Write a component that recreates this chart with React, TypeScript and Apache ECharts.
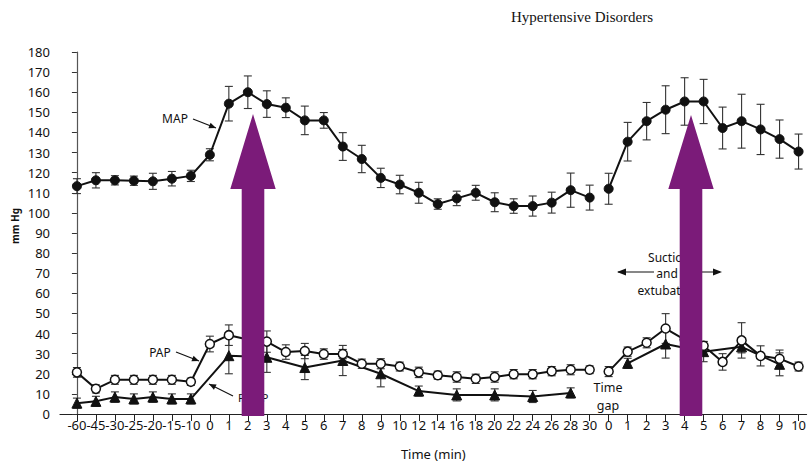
import React, { useEffect, useRef } from "react";
import * as echarts from "echarts";

const CATEGORIES = ['-60','-45','-30','-25','-20','-15','-10','0','1','2','3','4','5','6','7','8','9','10','12','14','16','18','20','22','24','26','28','30','0','1','2','3','4','5','6','7','8','9','10'];
const GAP_AFTER_INDEX = 27;

const MAP_VALUES = [113.3, 116.2, 116.2, 116, 115.7, 117, 118.4, 128.9, 154.3, 160, 154.1, 152.3, 146, 146, 133, 126.8, 117.4, 114.1, 110, 104.4, 107.2, 110, 105.3, 103.4, 103.4, 105.1, 111.3, 107.6, 112, 135.4, 145.6, 151.3, 155.4, 155.4, 142.2, 145.6, 141.5, 136.7, 130.5];
const MAP_ERR = [3.7, 3.8, 2.3, 2.3, 4, 3.6, 2.8, 3, 8.6, 8.1, 6.6, 4.9, 7.1, 3.9, 6.9, 6.8, 4.8, 4.6, 5.2, 2.6, 3.6, 3.7, 4.7, 3.6, 5, 5.2, 8.5, 6.2, 7.7, 9.6, 9.3, 11.9, 11.8, 11, 10.4, 13.4, 12.5, 9.5, 8.7];

const PAP_VALUES = [20.7, 12.5, 17, 17, 17, 17, 16, 34.8, 39.2, 37, 36, 30.8, 31.3, 29.8, 29.8, 25, 25, 23.6, 20.7, 19.3, 18.4, 17.5, 18.4, 19.8, 19.8, 21.3, 22, 22, 21.1, 31, 35.4, 42.5, 37, 33.9, 25.9, 36.6, 28.9, 27.5, 23.6];
const PAP_ERR = [2.4, 2, 2.2, 2.2, 2.2, 2.2, 1.8, 3.9, 5.1, 4, 5.3, 3.6, 3.8, 2.6, 2.3, 2.3, 2.5, 2.2, 2.6, 2, 2.6, 2.3, 2.6, 2.3, 2.3, 2.3, 2.5, 1.9, 2.5, 2.3, 2.5, 7.4, 4, 2.2, 4.1, 8.8, 5, 4.3, 2.2];

const PCWP_VALUES = [5.4, 6.3, 8.4, 7.5, 8.4, 7.5, 7.5, null, 29, null, 28.2, null, 23.1, null, 26.6, null, 20, null, 11.4, null, 9.5, null, 9.5, null, 8.7, null, 10.5, null, null, 25.2, null, 34.8, null, 31, null, 33.4, null, 24.7, null];
const PCWP_ERR = [2.5, 2.5, 2.6, 2.5, 2.6, 2.5, 2.5, null, 9, null, 7.5, null, 6, null, 7.5, null, 6.5, null, 2.5, null, 3, null, 3, null, 3, null, 2.5, null, null, 2.5, null, 7, null, 5, null, 3, null, 5.7, null];

const TICK_POSITIONS = CATEGORIES.map((_, i) => i);

function toLineData(vals: (number | null)[]) {
  const out: any[] = [];
  vals.forEach((v, i) => {
    if (v != null) out.push([i, v]);
    if (i === GAP_AFTER_INDEX) out.push([i + 0.5, "-"]);
  });
  return out;
}

function toErrData(vals: (number | null)[], errs: (number | null)[]) {
  const out: any[] = [];
  vals.forEach((v, i) => {
    const e = errs[i];
    if (v != null && e != null) out.push([i, v - e, v + e]);
  });
  return out;
}

const FONT = "Noto Sans";
const PURPLE = "#7b1b79";

function errSeries(name: string, vals: any, errs: any) {
  return {
    type: "custom",
    name: name + "-err",
    z: 2,
    silent: true,
    data: toErrData(vals, errs),
    encode: { x: 0, y: [1, 2] },
    renderItem: (params: any, api: any) => {
      const x = api.value(0);
      const lo = api.coord([x, api.value(1)]);
      const hi = api.coord([x, api.value(2)]);
      const cap = 4;
      const style = { stroke: "#333", lineWidth: 1.1 };
      return {
        type: "group",
        children: [
          { type: "line", shape: { x1: lo[0], y1: lo[1], x2: hi[0], y2: hi[1] }, style },
          { type: "line", shape: { x1: lo[0] - cap, y1: lo[1], x2: lo[0] + cap, y2: lo[1] }, style },
          { type: "line", shape: { x1: hi[0] - cap, y1: hi[1], x2: hi[0] + cap, y2: hi[1] }, style },
        ],
      };
    },
  };
}

function arrowHead(tx: number, ty: number, fx: number, fy: number, len = 7, w = 3) {
  const dx = tx - fx, dy = ty - fy;
  const d = Math.sqrt(dx * dx + dy * dy);
  const ux = dx / d, uy = dy / d;
  const bx = tx - ux * len, by = ty - uy * len;
  return {
    type: "polygon",
    z: 50,
    shape: { points: [[tx, ty], [bx - uy * w, by + ux * w], [bx + uy * w, by - ux * w]] },
    style: { fill: "#111" },
  };
}

function pointer(fx: number, fy: number, tx: number, ty: number) {
  return [
    { type: "line", z: 50, shape: { x1: fx, y1: fy, x2: tx, y2: ty }, style: { stroke: "#111", lineWidth: 1.2 } },
    arrowHead(tx, ty, fx, fy),
  ];
}

function bigArrow(cx: number, tipY: number) {
  const hw = 22.7, sw = 11.3, baseY = 189, bottom = 416;
  return {
    type: "polygon",
    z: 100,
    shape: {
      points: [
        [cx, tipY], [cx + hw, baseY], [cx + sw, baseY], [cx + sw, bottom],
        [cx - sw, bottom], [cx - sw, baseY], [cx - hw, baseY],
      ],
    },
    style: { fill: PURPLE },
  };
}

function txt(text: string, x: number, y: number, align = "center", size = 12) {
  return {
    type: "text",
    z: 60,
    x, y,
    style: { text, fontFamily: FONT, fontSize: size, fill: "#111", align, verticalAlign: "middle" },
  };
}

export default function App() {
  const ref = useRef<HTMLDivElement>(null);
  useEffect(() => {
    if (!ref.current) return;
    const chart = echarts.init(ref.current, undefined, { renderer: "svg" });
    const option: any = {
      animation: false,
      backgroundColor: "#fff",
      grid: { left: 60, top: 52, width: 750, height: 366 },
      xAxis: {
        type: "value",
        min: -0.891,
        max: 38.42,
        splitLine: { show: false },
        axisLine: { lineStyle: { color: "#222", width: 1.2 } },
        axisTick: { customValues: TICK_POSITIONS, length: 7, lineStyle: { color: "#222" } },
        axisLabel: {
          customValues: TICK_POSITIONS,
          formatter: (v: number) => CATEGORIES[Math.round(v)] ?? "",
          margin: 4,
          fontFamily: FONT,
          fontSize: 13,
          color: "#111",
          hideOverlap: false,
        },
        name: "Time (min)",
        nameLocation: "middle",
        nameGap: 33,
        nameTextStyle: { fontFamily: FONT, fontSize: 13, color: "#111" },
      },
      yAxis: {
        type: "value",
        min: 0,
        max: 180,
        interval: 10,
        splitLine: { show: false },
        axisLine: { show: true, lineStyle: { color: "#555", width: 1.2 } },
        axisTick: { show: true, length: 5, lineStyle: { color: "#333" } },
        axisLabel: { margin: 10, fontFamily: FONT, fontSize: 13, color: "#111" },
      },
      series: [
        errSeries("MAP", MAP_VALUES, MAP_ERR),
        errSeries("PAP", PAP_VALUES, PAP_ERR),
        errSeries("PCWP", PCWP_VALUES, PCWP_ERR),
        {
          type: "line", name: "MAP", z: 3, data: toLineData(MAP_VALUES),
          symbol: "circle", symbolSize: 9, showAllSymbol: true,
          lineStyle: { color: "#111", width: 2 },
          itemStyle: { color: "#111", borderColor: "#111" },
        },
        {
          type: "line", name: "PCWP", z: 3, data: toLineData(PCWP_VALUES),
          symbol: "triangle", symbolSize: 10, showAllSymbol: true,
          lineStyle: { color: "#111", width: 2 },
          itemStyle: { color: "#111", borderColor: "#111" },
        },
        {
          type: "line", name: "PAP", z: 4, data: toLineData(PAP_VALUES),
          symbol: "circle", symbolSize: 9, showAllSymbol: true,
          lineStyle: { color: "#111", width: 2 },
          itemStyle: { color: "#fff", borderColor: "#111", borderWidth: 1.5 },
        },
      ],
      graphic: [
        {
          type: "text", z: 60, x: 511, y: 17,
          style: { text: "Hypertensive Disorders", fontFamily: "Liberation Serif", fontSize: 15, fill: "#111", align: "left", verticalAlign: "middle" },
        },
        {
          type: "text", z: 60, x: 15, y: 226, rotation: Math.PI / 2,
          style: { text: "mm Hg", fontFamily: FONT, fontSize: 10, fontWeight: "bold", fill: "#111", align: "center", verticalAlign: "middle" },
        },
        txt("MAP", 175, 118),
        ...pointer(193, 119, 216, 128),
        txt("PAP", 160, 352),
        ...pointer(176, 352, 199, 361),
        txt("PCWP", 238, 397, "left", 11),
        ...pointer(233, 396, 209, 384),
        txt("Time", 608, 387, "center", 12.5),
        txt("gap", 608, 405, "center", 12.5),
        txt("Suction", 669, 257),
        txt("and", 667, 273),
        txt("extubation", 668, 290),
        { type: "line", z: 50, shape: { x1: 618, y1: 272, x2: 654, y2: 272 }, style: { stroke: "#111", lineWidth: 1.2 } },
        arrowHead(617, 272, 640, 272, 9, 3.5),
        { type: "line", z: 50, shape: { x1: 681, y1: 272, x2: 720, y2: 272 }, style: { stroke: "#111", lineWidth: 1.2 } },
        arrowHead(722, 272, 700, 272, 9, 3.5),
        bigArrow(253, 114),
        bigArrow(691, 115),
      ],
    };
    chart.setOption(option);
    return () => chart.dispose();
  }, []);
  return (
    <div
      ref={ref}
      style={{ position: "fixed", left: 0, top: 0, width: 809, height: 465, background: "#fff" }}
    />
  );
}
